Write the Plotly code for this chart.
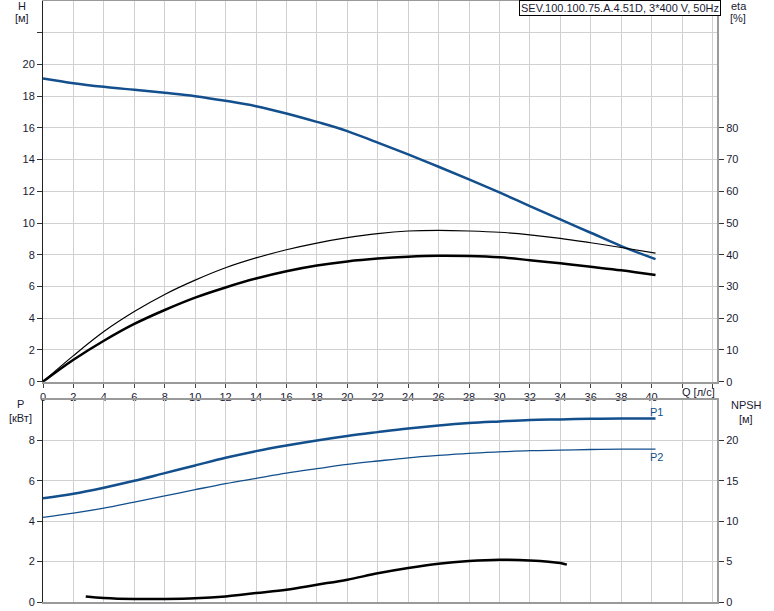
import plotly.graph_objects as go

# ---- data ----
q_h = [0, 2, 4, 6, 8, 10, 12, 14, 16, 18, 20, 22, 24, 26, 28, 30, 32, 34, 36, 38, 40.26]
h_vals = [19.12, 18.82, 18.59, 18.40, 18.21, 18.00, 17.71, 17.37, 16.91, 16.38, 15.80, 15.07,
          14.33, 13.55, 12.75, 11.93, 11.07, 10.23, 9.39, 8.55, 7.73]

q_eta = [0, 2, 4, 6, 8, 10, 12, 14, 16, 18, 20, 22, 24, 26, 28, 30, 32, 34, 36, 38, 40.26]
eta_pump = [0, 8.2, 15.8, 22.1, 27.5, 32.0, 35.9, 39.0, 41.6, 43.7, 45.4, 46.7,
            47.5, 47.7, 47.5, 47.1, 46.3, 45.2, 43.8, 42.3, 40.5]
eta_total = [0, 6.9, 12.9, 18.2, 22.6, 26.5, 29.7, 32.5, 34.8, 36.6, 37.9, 38.8,
             39.4, 39.7, 39.6, 39.2, 38.3, 37.3, 36.2, 35.1, 33.6]

q_p = [0, 2, 4, 6, 8, 10, 12, 14, 16, 18, 20, 22, 24, 26, 28, 30, 32, 34, 36, 38, 40.26]
p1_vals = [5.13, 5.36, 5.66, 6.00, 6.38, 6.76, 7.14, 7.47, 7.75, 8.00, 8.22, 8.41,
           8.59, 8.74, 8.86, 8.94, 9.01, 9.04, 9.07, 9.09, 9.09]
p2_vals = [4.19, 4.40, 4.65, 4.95, 5.25, 5.56, 5.86, 6.12, 6.38, 6.60, 6.81, 6.98,
           7.14, 7.26, 7.36, 7.43, 7.49, 7.52, 7.55, 7.57, 7.57]

q_npsh = [2.81, 4, 6, 8, 10, 12, 14, 16, 18, 20, 22, 24, 26, 28, 30, 32, 34, 34.43]
npsh_vals = [0.69, 0.50, 0.37, 0.37, 0.45, 0.69, 1.11, 1.52, 2.14, 2.76, 3.55,
             4.21, 4.74, 5.07, 5.23, 5.15, 4.83, 4.62]

x_ticks = list(range(0, 46, 2))
x_text = [str(v) if v <= 40 else "" for v in x_ticks]
h_ticks = list(range(0, 24, 2))
h_text = [str(v) if v <= 20 else "" for v in h_ticks]
eta_ticks = list(range(0, 90, 10))
p_ticks = [0, 2, 4, 6, 8]
npsh_ticks = [0, 5, 10, 15, 20]

title_text = "SEV.100.100.75.A.4.51D, 3*400 V, 50Hz"

BLUE = "#134f8c"
GRID = "#d0d0d0"
FRAME = "#9a9a9a"
TXT = "#1a1a33"
FONT = "Liberation Sans"

fig = go.Figure()

fig.add_trace(go.Scatter(x=q_h, y=h_vals, mode="lines", line=dict(color=BLUE, width=2.5, shape="spline"),
                         xaxis="x", yaxis="y", showlegend=False))
fig.add_trace(go.Scatter(x=q_eta, y=eta_pump, mode="lines", line=dict(color="black", width=1.2, shape="spline"),
                         xaxis="x", yaxis="y2", showlegend=False))
fig.add_trace(go.Scatter(x=q_eta, y=eta_total, mode="lines", line=dict(color="black", width=2.5, shape="spline"),
                         xaxis="x", yaxis="y2", showlegend=False))
fig.add_trace(go.Scatter(x=q_p, y=p1_vals, mode="lines", line=dict(color=BLUE, width=2.5, shape="spline"),
                         xaxis="x2", yaxis="y3", showlegend=False))
fig.add_trace(go.Scatter(x=q_p, y=p2_vals, mode="lines", line=dict(color=BLUE, width=1.3, shape="spline"),
                         xaxis="x2", yaxis="y3", showlegend=False))
fig.add_trace(go.Scatter(x=q_npsh, y=npsh_vals, mode="lines", line=dict(color="black", width=2.5, shape="spline"),
                         xaxis="x2", yaxis="y4", showlegend=False))

tickfont = dict(family=FONT, size=11, color=TXT)
xcommon = dict(range=[0, 44.3], tickvals=x_ticks, showgrid=True, gridcolor=GRID, gridwidth=1,
               zeroline=False, showline=True, linecolor=FRAME, linewidth=2, mirror=True,
               ticks="outside", ticklen=4, tickcolor="#444", tickfont=tickfont)

L, R, T, B = 43, 57, 1, 9

fig.update_layout(
    width=774, height=611,
    margin=dict(l=L, r=R, t=T, b=B, autoexpand=False),
    paper_bgcolor="white", plot_bgcolor="white",
    font=dict(family=FONT, size=11, color=TXT),
    xaxis=dict(xcommon, domain=[0, 1], anchor="y", ticktext=x_text),
    yaxis=dict(domain=[0.3666, 1], range=[0, 24], tickvals=h_ticks, ticktext=h_text,
               showgrid=True, gridcolor=GRID, zeroline=False, showline=True, linecolor="#222",
               linewidth=1, ticks="outside", ticklen=5, tickcolor="#333", tickfont=tickfont),
    yaxis2=dict(overlaying="y", side="right", anchor="x", range=[0, 120], tickvals=eta_ticks,
                showgrid=False, zeroline=False, showline=True, linecolor=FRAME, linewidth=2,
                ticks="outside", ticklen=5, tickcolor="#333", tickfont=tickfont),
    xaxis2=dict(xcommon, domain=[0, 1], anchor="y3", showticklabels=False, ticks="",
                ticktext=["" for _ in x_ticks]),
    yaxis3=dict(domain=[0, 0.3361], range=[0, 10], tickvals=p_ticks,
                showgrid=True, gridcolor=GRID, zeroline=False, showline=True, linecolor="#222",
                linewidth=1, ticks="outside", ticklen=5, tickcolor="#333", tickfont=tickfont),
    yaxis4=dict(overlaying="y3", side="right", anchor="x2", range=[0, 25], tickvals=npsh_ticks,
                showgrid=False, zeroline=False, showline=True, linecolor=FRAME, linewidth=2,
                ticks="outside", ticklen=5, tickcolor="#333", tickfont=tickfont),
)


def plab(text, px, py, xanchor="center", color=TXT, size=11, **kw):
    w = 774 - L - R
    h = 611 - T - B
    fig.add_annotation(text=text, x=(px - L) / w, y=1 - (py - T) / h, xref="paper", yref="paper",
                       xanchor=xanchor, yanchor="middle", showarrow=False,
                       font=dict(family=FONT, size=size, color=color), **kw)


plab("H", 22, 6)
plab("[м]", 22, 18)
plab("eta", 739, 6)
plab("[%]", 738, 18)
plab("P", 20, 404)
plab("[кВт]", 20, 418)
plab("NPSH", 746, 405)
plab("[м]", 746, 419)
plab("Q [л/с]", 698, 392)
plab("P1", 656, 412, color=BLUE)
plab("P2", 656, 457, color=BLUE)
plab(title_text, 620, 8, bgcolor="white", bordercolor="black", borderwidth=1, borderpad=1)

fig.write_html("out.html", config={"displayModeBar": False},
               post_script="document.body.style.margin='0';document.body.style.overflow='hidden';")
